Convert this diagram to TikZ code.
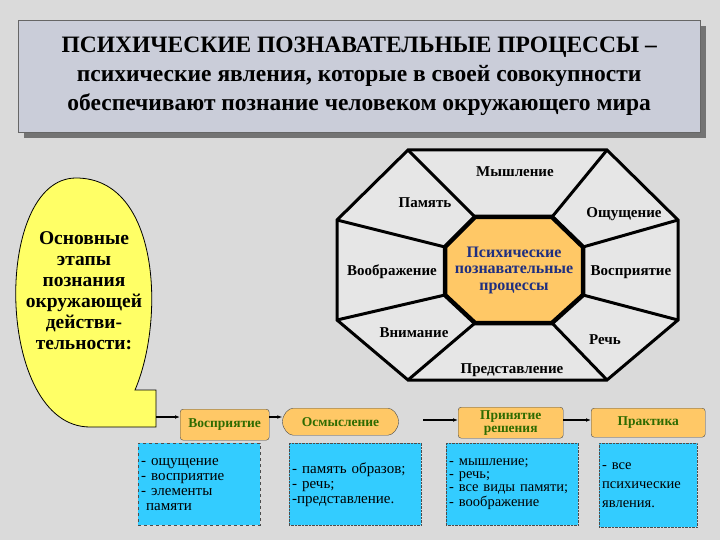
\documentclass[tikz,border=0pt]{standalone}
\usepackage{fontspec}
\setmainfont{Liberation Serif}
\usetikzlibrary{arrows.meta,shapes.misc}
\definecolor{bgc}{HTML}{DADADA}
\definecolor{titlec}{HTML}{CACDD9}
\definecolor{orc}{HTML}{FFC866}
\definecolor{bluec}{HTML}{33CCFF}
\definecolor{grn}{HTML}{2E6B00}
\definecolor{navy}{HTML}{1F2F80}
\definecolor{yel}{HTML}{FFFF66}
\tikzset{
 lab/.style={font=\bfseries\fontsize{15}{16}\selectfont},
 stage/.style={draw=black!70,fill=orc,rounded corners=3pt,text=grn,font=\bfseries\fontsize{13.5}{13}\selectfont,align=center,inner sep=1pt},
 info/.style={draw=black!70,densely dotted,fill=bluec,font=\fontsize{15}{15}\selectfont,align=left,anchor=north west,inner sep=3pt,text width=#1},
 arr/.style={-{Latex[length=5pt]},line width=1.3pt},
 oct/.style={line width=3pt,line join=miter},
}
\begin{document}
\begin{tikzpicture}[x=1pt,y=-1pt]
\useasboundingbox (0,0) rectangle (720,540);
\fill[bgc] (0,0) rectangle (720,540);
% title
\fill[black!55] (24,26) rectangle (706,138);
\node[draw=black!60,fill=titlec,minimum width=682pt,minimum height=112pt,align=center,anchor=north west,font=\bfseries\fontsize{23.5}{29}\selectfont] (title) at (18,20)
 {ПСИХИЧЕСКИЕ ПОЗНАВАТЕЛЬНЫЕ ПРОЦЕССЫ –\\психические явления, которые в своей совокупности\\обеспечивают познание человеком окружающего мира};
% octagon
\coordinate (o1) at (408,150); \coordinate (o2) at (607,150); \coordinate (o3) at (678,220); \coordinate (o4) at (678,320);
\coordinate (o5) at (607,380); \coordinate (o6) at (408,380); \coordinate (o7) at (337,320); \coordinate (o8) at (337,220);
\coordinate (i1) at (475,217); \coordinate (i2) at (552,217); \coordinate (i3) at (583,247); \coordinate (i4) at (583,295);
\coordinate (i5) at (552,323); \coordinate (i6) at (475,323); \coordinate (i7) at (445,295); \coordinate (i8) at (445,247);
\fill[white,opacity=0.35] (o1)--(o2)--(o3)--(o4)--(o5)--(o6)--(o7)--(o8)--cycle;
\draw[oct] (o1)--(o2)--(o3)--(o4)--(o5)--(o6)--(o7)--(o8)--cycle;
\foreach \k in {1,...,8} \draw[oct] (o\k)--(i\k);
\draw[line width=4.5pt,fill=orc,line join=miter] (i1)--(i2)--(i3)--(i4)--(i5)--(i6)--(i7)--(i8)--cycle;
\node[text=navy,align=center,font=\bfseries\fontsize{16}{16.5}\selectfont] (center) at (514,270) {Психические\\познавательные\\процессы};
\node[lab] (m1) at (515,172) {Мышление};
\node[lab] (m2) at (425,203) {Память};
\node[lab] (m3) at (624,214) {Ощущение};
\node[lab] (m4) at (392,272) {Воображение};
\node[lab] (m5) at (631,272) {Восприятие};
\node[lab] (m6) at (414,333) {Внимание};
\node[lab] (m7) at (605,340) {Речь};
\node[lab] (m8) at (512,370) {Представление};
% yellow shape
\draw[fill=yel,line width=0.8pt] (135,390) .. controls (165,320) and (160,178) .. (76,178)
 .. controls (-8,178) and (-5,427) .. (90,427) -- (156,427) -- (156,390) -- cycle;
\coordinate (ys) at (156,417);
\node[align=center,font=\bfseries\fontsize{19.5}{21}\selectfont] (ytext) at (84,291)
 {Основные\\этапы\\познания\\окружающей\\действи-\\тельности:};
% stages
\node[stage,minimum width=89pt,minimum height=31pt,anchor=north west] (s1) at (180,409) {Восприятие};
\node[stage,rounded rectangle,minimum width=118pt,minimum height=27pt,anchor=north west] (s2) at (296,408) {Осмысление};
\node[stage,minimum width=105pt,minimum height=31pt,anchor=north west] (s3) at (458,407) {Принятие\\решения};
\node[stage,minimum width=114pt,minimum height=29pt,anchor=north west] (s4) at (591,408) {Практика};
\draw[arr] (ys) -- (s1.west|-ys);
\draw[arr] (s1.east|-ys) -- (s2.west|-ys);
\draw[arr] (423,420) -- (s3.west|-0,420);
\draw[arr] (s3.east|-0,420) -- (s4.west|-0,420);
% info boxes
\node[info=116pt,dashed,minimum height=82pt] (b1) at (138,443) {- ощущение\\- восприятие\\- элементы\\\ памяти};
\node[info=126pt,minimum height=82pt] (b2) at (289,443) {\\[-4pt]- память образов;\\- речь;\\-представление.};
\node[info=126pt,minimum height=82pt,font=\fontsize{14.5}{13}\selectfont] (b3) at (446,443) {- мышление;\\- речь;\\- все виды памяти;\\- воображение};
\node[info=92pt,minimum height=84pt,font=\fontsize{14.5}{19}\selectfont] (b4) at (599,443) {- все\\психические\\явления.};
\end{tikzpicture}
\end{document}
